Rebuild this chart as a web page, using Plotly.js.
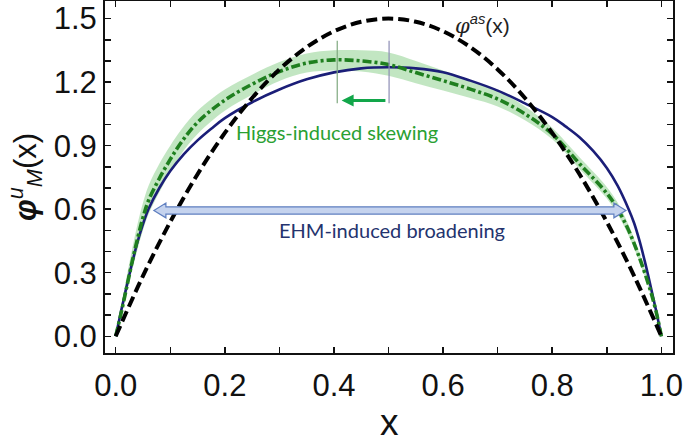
<!DOCTYPE html>
<html>
<head>
<meta charset="utf-8">
<script src="https://cdn.plot.ly/plotly-3.0.1.min.js"></script>
<style>html,body{margin:0;padding:0;background:#fff;}#chart{width:685px;height:444px;}</style>
</head>
<body>
<div id="chart"></div>
<script>
// asymptotic DA  phi^as(x)
const xAs = [0,0.05,0.10,0.15,0.20,0.25,0.30,0.35,0.40,0.45,0.50,0.55,0.60,0.65,0.70,0.75,0.80,0.85,0.90,0.95,1.0];
const yAs = [0,0.285,0.54,0.765,0.96,1.125,1.26,1.365,1.44,1.485,1.5,1.485,1.44,1.365,1.26,1.125,0.96,0.765,0.54,0.285,0];

// EHM-broadened (solid navy)
const xBlue = [0,0.01,0.02,0.03,0.04,0.05,0.06,0.08,0.10,0.125,0.15,0.175,0.20,0.25,0.30,0.35,0.40,0.45,0.50,0.55,0.60,0.65,0.70,0.75,0.80,0.825,0.85,0.875,0.90,0.92,0.94,0.95,0.96,0.97,0.98,0.99,1.0];
const yBlue = [0,0.12,0.235,0.345,0.445,0.53,0.60,0.70,0.78,0.86,0.925,0.98,1.03,1.105,1.165,1.213,1.246,1.265,1.27,1.265,1.247,1.207,1.16,1.10,1.035,0.99,0.94,0.875,0.795,0.71,0.60,0.535,0.45,0.35,0.24,0.125,0];

// Higgs-skewed (green dash-dot) with uncertainty band
const xGreen = [0,0.01,0.02,0.03,0.04,0.05,0.06,0.08,0.10,0.12,0.15,0.20,0.25,0.30,0.35,0.40,0.45,0.50,0.55,0.60,0.65,0.70,0.75,0.80,0.85,0.90,0.92,0.94,0.96,0.98,0.99,1.0];
const yGreen = [0,0.11,0.23,0.35,0.46,0.56,0.64,0.745,0.835,0.915,1.01,1.115,1.19,1.25,1.29,1.305,1.30,1.283,1.245,1.207,1.167,1.12,1.05,0.955,0.815,0.675,0.60,0.50,0.37,0.215,0.12,0];
const yBandLo = [0,0.09,0.20,0.31,0.41,0.50,0.575,0.68,0.775,0.86,0.955,1.065,1.14,1.205,1.245,1.255,1.25,1.23,1.195,1.16,1.125,1.085,1.02,0.93,0.79,0.65,0.575,0.475,0.35,0.20,0.11,0];
const yBandHi = [0,0.14,0.28,0.41,0.53,0.63,0.71,0.815,0.90,0.975,1.065,1.165,1.235,1.295,1.335,1.35,1.35,1.34,1.30,1.255,1.21,1.16,1.085,0.985,0.845,0.705,0.63,0.525,0.39,0.23,0.13,0];

// annotation helpers
const skewLinesX = [0.406, 0.501];
const skewArrow = {from:0.497, to:0.414, y:1.113};
const broadArrow = {x0:0.07, x1:0.935, y:0.594};

const traces = [
  {x:xGreen, y:yBandLo, mode:'lines', line:{width:0, color:'rgba(0,0,0,0)', shape:'spline', smoothing:1}, hoverinfo:'skip'},
  {x:xGreen, y:yBandHi, mode:'lines', fill:'tonexty', fillcolor:'rgba(110,195,110,0.42)', line:{width:0, color:'rgba(0,0,0,0)', shape:'spline', smoothing:1}, hoverinfo:'skip'},
  {x:xBlue, y:yBlue, mode:'lines', line:{color:'#1b1e78', width:2.6, shape:'spline', smoothing:1}},
  {x:xGreen, y:yGreen, mode:'lines', line:{color:'#1f7f1f', width:3.6, dash:'9px,3px,3px,3px', shape:'spline', smoothing:1}},
  {x:xAs, y:yAs, mode:'lines', line:{color:'#000', width:4, dash:'11px,5px', shape:'spline', smoothing:1}}
];

const hw = 0.017, hh = 0.035, hl = 0.022;
const b = broadArrow;
const arrowPath = `M ${b.x0},${b.y} L ${b.x0+hl},${b.y+hh} L ${b.x0+hl},${b.y+hw} L ${b.x1-hl},${b.y+hw} L ${b.x1-hl},${b.y+hh} L ${b.x1},${b.y} L ${b.x1-hl},${b.y-hh} L ${b.x1-hl},${b.y-hw} L ${b.x0+hl},${b.y-hw} L ${b.x0+hl},${b.y-hh} Z`;

const axisCommon = {
  ticks:'inside', ticklen:6, tickwidth:1.5, tickcolor:'#111',
  showline:true, linecolor:'#111', linewidth:2, mirror:'ticks',
  showgrid:false, zeroline:false, tickformat:'.1f',
  tickfont:{size:31, color:'#111', family:'Liberation Sans, Arial, sans-serif'}
};

const layout = {
  width:685, height:444,
  margin:{l:105, r:12, t:1, b:91},
  paper_bgcolor:'#fff', plot_bgcolor:'#fff',
  showlegend:false,
  font:{family:'Liberation Sans, Arial, sans-serif', color:'#111'},
  xaxis:Object.assign({}, axisCommon, {
    range:[-0.0196, 1.0213], tick0:0, dtick:0.2,
    minor:{dtick:0.1, ticks:'inside', ticklen:6, tickwidth:1.5, tickcolor:'#111', showgrid:false},
    ticklabelstandoff:4
  }),
  yaxis:Object.assign({}, axisCommon, {
    range:[-0.079, 1.583], tick0:0, dtick:0.3,
    minor:{dtick:0.1, ticks:'inside', ticklen:6, tickwidth:1.5, tickcolor:'#111', showgrid:false},
    title:{text:'<b><i>φ</i></b><sup><i>u</i></sup><sub><i>M</i></sub>(x)', font:{size:31, color:'#111'}, standoff:8}
  }),
  shapes:[
    {type:'path', xref:'x', yref:'y', path:arrowPath, fillcolor:'#c5d3ee', line:{color:'#5f7fc0', width:1.2}},
    {type:'line', xref:'x', yref:'y', x0:skewLinesX[0], x1:skewLinesX[0], y0:1.10, y1:1.395, line:{color:'#7fa87f', width:1.2}},
    {type:'line', xref:'x', yref:'y', x0:skewLinesX[1], x1:skewLinesX[1], y0:1.10, y1:1.395, line:{color:'#8c8cb4', width:1.2}}
  ],
  annotations:[
    {x:0.5, y:-0.2585, xref:'paper', yref:'paper', xanchor:'center', yanchor:'bottom', showarrow:false, borderpad:0,
     text:'x', font:{size:37, color:'#111', family:'Liberation Sans, Arial, sans-serif'}},
    {x:skewArrow.to, y:skewArrow.y, ax:skewArrow.from, ay:skewArrow.y, axref:'x', ayref:'y', xref:'x', yref:'y',
     text:'', showarrow:true, arrowhead:2, arrowsize:0.8, arrowwidth:3, arrowcolor:'#12a64a'},
    {x:0.6725, y:1.472, xref:'x', yref:'y', showarrow:false,
     text:'<span style="font-family:DejaVu Serif"><i>φ</i></span><sup><i>as</i></sup>(x)',
     font:{size:21, color:'#222', family:'Liberation Sans, Arial, sans-serif'}},
    {x:0.406, y:0.964, xref:'x', yref:'y', showarrow:false, text:'Higgs-induced skewing',
     font:{size:20, color:'#2aa032', family:'Lato, sans-serif'}},
    {x:0.507, y:0.50, xref:'x', yref:'y', showarrow:false, text:'EHM-induced broadening',
     font:{size:20, color:'#24336e', family:'Lato, sans-serif'}}
  ]
};

Plotly.newPlot('chart', traces, layout, {staticPlot:true, displayModeBar:false});
</script>
</body>
</html>
